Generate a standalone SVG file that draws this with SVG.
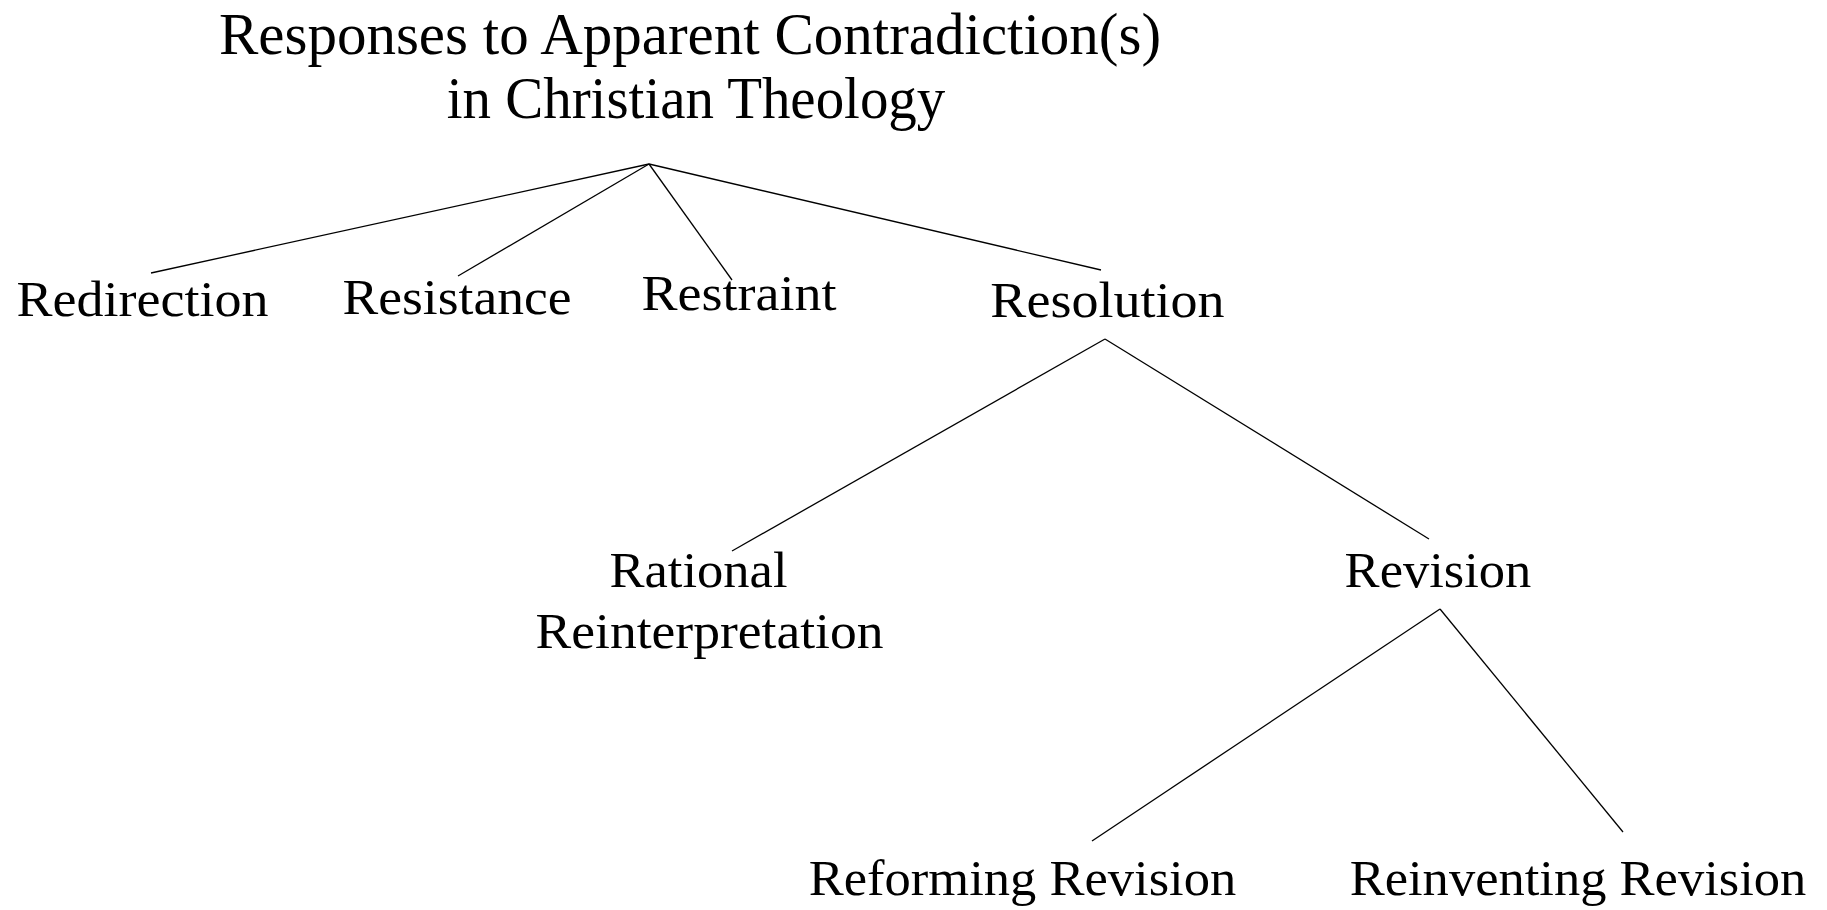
<svg xmlns="http://www.w3.org/2000/svg" width="1827" height="910" viewBox="0 0 1827 910">
<style>
text{font-family:"Liberation Serif","Times New Roman",serif;fill:#000;text-anchor:middle}
.t{font-size:59px}
.n{font-size:51px}
.c line{stroke:#000;stroke-width:1.3;fill:none}
</style>
<rect width="1827" height="910" fill="#fff"/>
<g id="connectors" class="c">
<line x1="649" y1="164" x2="151" y2="273"/>
<line x1="649" y1="164" x2="458" y2="276"/>
<line x1="649" y1="164" x2="732" y2="280"/>
<line x1="649" y1="164" x2="1101" y2="270"/>
<line x1="1105" y1="339" x2="732" y2="551"/>
<line x1="1105" y1="339" x2="1429" y2="539"/>
<line x1="1440" y1="609" x2="1092" y2="841"/>
<line x1="1440" y1="609" x2="1623" y2="832"/>
</g>
<g id="title"><text class="t" transform="translate(690,54)">Responses to Apparent Contradiction(s)</text><text class="t" transform="translate(696,118) scale(0.965,1)">in Christian Theology</text></g>
<g id="redirection"><text class="n" transform="translate(142.5,316) scale(1.06,1)">Redirection</text></g>
<g id="resistance"><text class="n" transform="translate(457,314) scale(1.05,1)">Resistance</text></g>
<g id="restraint"><text class="n" transform="translate(739,310) scale(1.06,1)">Restraint</text></g>
<g id="resolution"><text class="n" transform="translate(1107.5,317) scale(1.06,1)">Resolution</text></g>
<g id="rational"><text class="n" transform="translate(698.5,587) scale(1.03,1)">Rational</text><text class="n" transform="translate(709.5,648) scale(1.05,1)">Reinterpretation</text></g>
<g id="revision"><text class="n" transform="translate(1438,587) scale(1.03,1)">Revision</text></g>
<g id="reforming"><text class="n" transform="translate(1022.5,895) scale(1.03,1)">Reforming Revision</text></g>
<g id="reinventing"><text class="n" transform="translate(1578,895) scale(1.03,1)">Reinventing Revision</text></g>
</svg>
